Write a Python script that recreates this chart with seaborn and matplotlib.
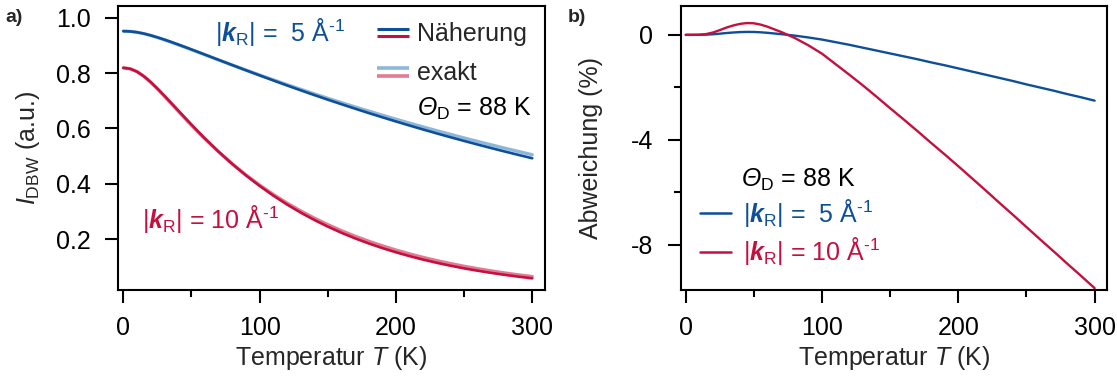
import numpy as np
import pandas as pd
import matplotlib
matplotlib.use("Agg")
import matplotlib.pyplot as plt
import seaborn as sns
from matplotlib.legend_handler import HandlerBase
from matplotlib.lines import Line2D
from matplotlib.ticker import FixedLocator

# ---------------- data ----------------
temperatur = [0, 5, 10, 15, 20, 25, 30, 35, 40, 45, 50, 55, 60, 70, 80, 90, 100,
              110, 120, 130, 140, 150, 160, 170, 180, 190, 200, 210, 220, 230,
              240, 250, 260, 270, 280, 290, 300]

i5_exakt = [0.9512, 0.9502, 0.9472, 0.9423, 0.9358, 0.9283, 0.9201, 0.9115, 0.9025,
            0.8934, 0.8842, 0.8749, 0.8656, 0.8471, 0.8287, 0.8106, 0.7928,
            0.7754, 0.7582, 0.7414, 0.7249, 0.7088, 0.6930, 0.6776, 0.6625,
            0.6477, 0.6332, 0.6190, 0.6052, 0.5916, 0.5784, 0.5654, 0.5528,
            0.5404, 0.5283, 0.5165, 0.5049]
i5_naeherung = [0.9512, 0.9502, 0.9472, 0.9424, 0.9361, 0.9287, 0.9208, 0.9123, 0.9034,
                0.8944, 0.8851, 0.8757, 0.8663, 0.8473, 0.8285, 0.8098, 0.7914,
                0.7732, 0.7553, 0.7378, 0.7206, 0.7038, 0.6874, 0.6713, 0.6555,
                0.6402, 0.6251, 0.6104, 0.5960, 0.5819, 0.5682, 0.5548, 0.5417,
                0.5289, 0.5164, 0.5042, 0.4922]
i10_exakt = [0.8187, 0.8153, 0.8050, 0.7884, 0.7670, 0.7427, 0.7168, 0.6901, 0.6634,
             0.6370, 0.6111, 0.5859, 0.5614, 0.5149, 0.4717, 0.4318, 0.3952,
             0.3615, 0.3305, 0.3022, 0.2762, 0.2524, 0.2307, 0.2108, 0.1926,
             0.1760, 0.1607, 0.1468, 0.1341, 0.1225, 0.1119, 0.1022, 0.0934,
             0.0853, 0.0779, 0.0711, 0.0650]
i10_naeherung = [0.8187, 0.8153, 0.8050, 0.7886, 0.7677, 0.7440, 0.7188, 0.6926, 0.6662,
                 0.6399, 0.6138, 0.5881, 0.5631, 0.5154, 0.4711, 0.4301, 0.3923,
                 0.3574, 0.3255, 0.2963, 0.2697, 0.2454, 0.2232, 0.2030, 0.1847,
                 0.1679, 0.1527, 0.1388, 0.1262, 0.1147, 0.1042, 0.0947, 0.0861,
                 0.0782, 0.0711, 0.0646, 0.0587]

abw5 = [0.0, 0.0, 0.001, 0.008, 0.022, 0.045, 0.07, 0.09, 0.105, 0.112, 0.11, 0.097,
        0.077, 0.027, -0.03, -0.10, -0.18, -0.28, -0.38, -0.49, -0.60, -0.71,
        -0.82, -0.93, -1.05, -1.16, -1.28, -1.40, -1.52, -1.64, -1.76, -1.89,
        -2.01, -2.13, -2.26, -2.38, -2.51]
abw10 = [0.0, 0.0, 0.005, 0.03, 0.09, 0.18, 0.28, 0.36, 0.42, 0.45, 0.44, 0.39,
         0.31, 0.11, -0.12, -0.40, -0.72, -1.12, -1.52, -1.93, -2.36, -2.80,
         -3.23, -3.67, -4.12, -4.56, -5.01, -5.47, -5.93, -6.40, -6.86, -7.33,
         -7.80, -8.26, -8.73, -9.19, -9.66]

x_ticks = [0, 100, 200, 300]
x_minor = [50, 150, 250]
a_yticks = [0.2, 0.4, 0.6, 0.8, 1.0]
a_ylabels = ["0.2", "0.4", "0.6", "0.8", "1.0"]
b_yticks = [0, -4, -8]
b_ylabels = ["0", "-4", "-8"]
b_yminor = [-2, -6]

# ---------------- style ----------------
BLUE = "#0d4f98"
RED = "#c5103f"
LBLUE = "#8db6dd"
LRED = "#e27a93"
FS = 18

sns.set_theme(style="ticks")
plt.rcParams.update({
    "font.size": FS,
    "axes.linewidth": 1.5,
    "xtick.major.width": 1.5, "ytick.major.width": 1.5,
    "xtick.minor.width": 1.5, "ytick.minor.width": 1.5,
    "xtick.major.size": 9.5, "ytick.major.size": 9.5,
    "xtick.minor.size": 5, "ytick.minor.size": 5,
    "xtick.major.pad": 9.0, "ytick.major.pad": 10.5,
    "xtick.direction": "out", "ytick.direction": "out",
    "xtick.color": "black", "ytick.color": "black",
    "axes.edgecolor": "black",
    "xtick.labelsize": FS, "ytick.labelsize": FS,
    "axes.labelsize": FS,
    "axes.unicode_minus": False,
    "mathtext.fontset": "custom",
    "mathtext.rm": "Liberation Sans",
    "mathtext.it": "Liberation Sans:italic",
    "mathtext.bf": "Liberation Sans:bold",
    "mathtext.sf": "Liberation Sans:italic",
})
if "mathtext.bfit" in plt.rcParams:
    plt.rcParams["mathtext.bfit"] = "Liberation Sans:italic:bold"
plt.rcParams["font.family"] = ["Liberation Sans", "DejaVu Sans"]

W, H = 1117, 385
fig = plt.figure(figsize=(W / 100, H / 100), dpi=100)
ax_a = fig.add_axes([118.3 / W, 1 - 290 / H, 426.2 / W, 284 / H])
ax_b = fig.add_axes([680.7 / W, 1 - 290 / H, 426.2 / W, 284 / H])

df = pd.DataFrame({
    "T": temperatur,
    "i5e": i5_exakt, "i5n": i5_naeherung,
    "i10e": i10_exakt, "i10n": i10_naeherung,
    "d5": abw5, "d10": abw10,
})

# ---- panel a ----
sns.lineplot(data=df, x="T", y="i5e", ax=ax_a, color=LBLUE, lw=2.4, sort=False, estimator=None)
sns.lineplot(data=df, x="T", y="i10e", ax=ax_a, color=LRED, lw=2.4, sort=False, estimator=None)
sns.lineplot(data=df, x="T", y="i5n", ax=ax_a, color=BLUE, lw=1.9, sort=False, estimator=None)
sns.lineplot(data=df, x="T", y="i10n", ax=ax_a, color=RED, lw=1.9, sort=False, estimator=None)

# ---- panel b ----
sns.lineplot(data=df, x="T", y="d5", ax=ax_b, color=BLUE, lw=1.7, sort=False, estimator=None)
sns.lineplot(data=df, x="T", y="d10", ax=ax_b, color=RED, lw=1.7, sort=False, estimator=None)

for ax in (ax_a, ax_b):
    ax.set_xlim(-3.7, 309)
    ax.xaxis.set_major_locator(FixedLocator(x_ticks))
    ax.xaxis.set_minor_locator(FixedLocator(x_minor))
    ax.set_xticklabels([str(t) for t in x_ticks])
    ax.set_xlabel("Temperatur $T$ (K)")
    ax.xaxis.set_label_coords(0.5, -0.19)
    ax.grid(False)
    for s in ax.spines.values():
        s.set_visible(True)
        s.set_linewidth(1.5)
    ax.tick_params(which="both", top=False, right=False)

ax_a.set_ylim(0.0165, 1.042)
ax_a.yaxis.set_major_locator(FixedLocator(a_yticks))
ax_a.set_yticklabels(a_ylabels)
ax_a.set_ylabel(r"$I_{\mathrm{DBW}}$ (a.u.)")
ax_a.yaxis.set_label_coords(-0.18, 0.5)

ax_b.set_ylim(-9.73, 1.1)
ax_b.yaxis.set_major_locator(FixedLocator(b_yticks))
ax_b.yaxis.set_minor_locator(FixedLocator(b_yminor))
ax_b.set_yticklabels(b_ylabels)
ax_b.set_ylabel("Abweichung (%)")
ax_b.yaxis.set_label_coords(-0.183, 0.5)

k5 = r"|$\boldsymbol{k}_{\mathrm{R}}$| =  5 Å$^{\text{-1}}$"
k10 = r"|$\boldsymbol{k}_{\mathrm{R}}$| = 10 Å$^{\text{-1}}$"
theta = r"$\mathsf{\Theta}_{\mathrm{D}}$ = 88 K"

ax_a.text(67, 0.915, k5, color=BLUE, ha="left", va="baseline", fontsize=FS)
ax_a.text(13.5, 0.241, k10, color=RED, ha="left", va="baseline", fontsize=FS)
ax_a.text(215.5, 0.644, theta, color="black", ha="left", va="baseline", fontsize=FS)


class StackedHandler(HandlerBase):
    def create_artists(self, legend, orig_handle, xdescent, ydescent,
                       width, height, fontsize, trans):
        arts = []
        gap = 0.30 * fontsize
        yc = height / 2 - ydescent
        for i, h in enumerate(orig_handle):
            y = yc + gap / 2 - i * gap
            ln = Line2D([-xdescent, width - xdescent], [y, y],
                        color=h.get_color(), lw=h.get_linewidth(),
                        solid_capstyle="butt")
            ln.set_transform(trans)
            arts.append(ln)
        return arts


h_n = (Line2D([], [], color=BLUE, lw=2.2), Line2D([], [], color=RED, lw=2.2))
h_e = (Line2D([], [], color=LBLUE, lw=2.6), Line2D([], [], color=LRED, lw=2.6))
leg_a = ax_a.legend([h_n, h_e], ["Näherung", "exakt"],
                    handler_map={tuple: StackedHandler()},
                    loc="upper left", bbox_to_anchor=(376.7 / W, 1 - 22 / H),
                    bbox_transform=fig.transFigure, frameon=False, borderpad=0,
                    borderaxespad=0, handlelength=1.28, handletextpad=0.32,
                    labelspacing=0.62, fontsize=FS)

ax_b.text(40.8, -5.8, theta, color="black", ha="left", va="baseline", fontsize=FS)
hb = [Line2D([], [], color=BLUE, lw=1.8), Line2D([], [], color=RED, lw=1.8)]
leg_b = ax_b.legend(hb, [k5, k10], loc="upper left",
                    bbox_to_anchor=(700.3 / W, 1 - 197 / H),
                    bbox_transform=fig.transFigure, frameon=False, borderpad=0,
                    borderaxespad=0, handlelength=1.24, handletextpad=0.45,
                    labelspacing=0.25, fontsize=FS, labelcolor="linecolor")

fig.text(5 / W, 1 - 18 / H, "a)", fontweight="bold", fontsize=14, va="center", ha="left")
fig.text(568 / W, 1 - 18 / H, "b)", fontweight="bold", fontsize=14, va="center", ha="left")

fig.savefig("out.png", dpi=100)
